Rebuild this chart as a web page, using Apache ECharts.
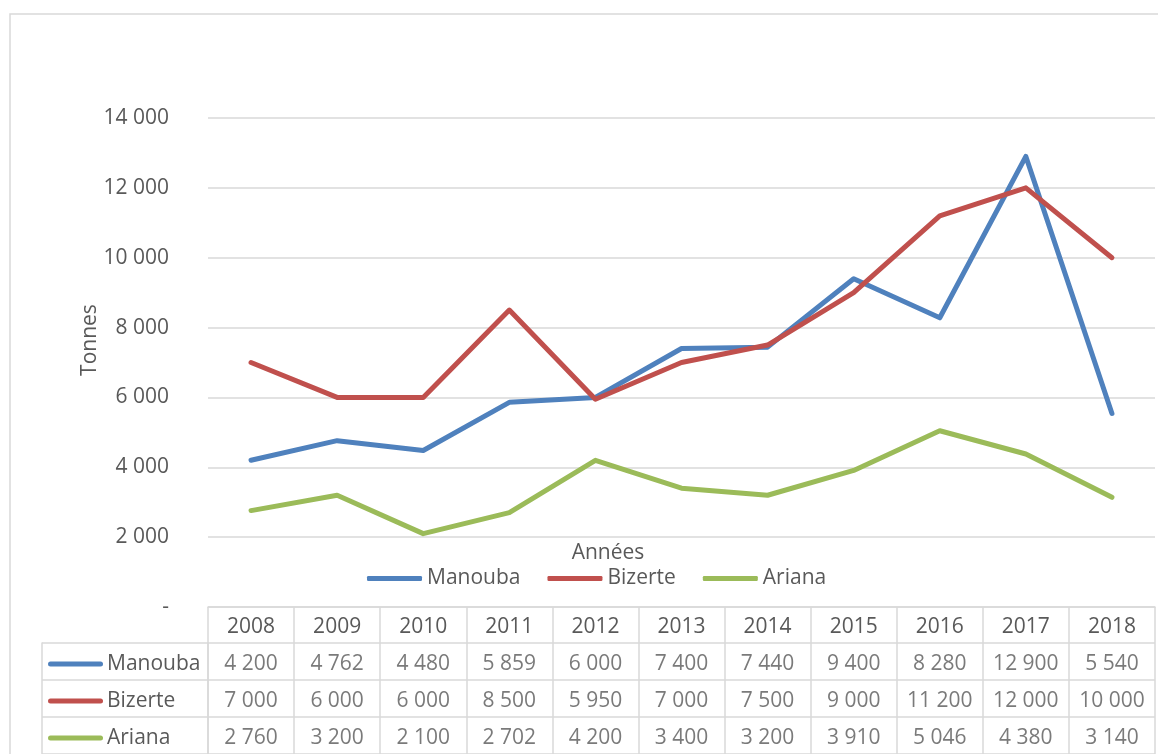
<!DOCTYPE html>
<html>
<head>
<meta charset="utf-8">
<script src="https://cdn.jsdelivr.net/npm/echarts@6/dist/echarts.min.js"></script>
<style>
  html, body { margin: 0; padding: 0; background: #fff; }
  #main { width: 1158px; height: 754px; }
</style>
</head>
<body>
<div id="main"></div>
<script>
var years = ['2008', '2009', '2010', '2011', '2012', '2013', '2014', '2015', '2016', '2017', '2018'];
var seriesNames = ['Manouba', 'Bizerte', 'Ariana'];
var manouba = [4200, 4762, 4480, 5859, 6000, 7400, 7440, 9400, 8280, 12900, 5540];
var bizerte = [7000, 6000, 6000, 8500, 5950, 7000, 7500, 9000, 11200, 12000, 10000];
var ariana = [2760, 3200, 2100, 2702, 4200, 3400, 3200, 3910, 5046, 4380, 3140];
var colors = ['#4F81BD', '#C0504D', '#9BBB59'];

var allValues = [manouba, bizerte, ariana];
var font = '"Open Sans", "Noto Sans", sans-serif';
var txt = '#595959';
var border = '#d9d9d9';

// 4 200 style thousands
function fmt(v) {
  return String(v).replace(/\B(?=(\d{3})+(?!\d))/g, ' ');
}

// cells of the data table: [col, row, value]
var cells = [];
allValues.forEach(function (arr, r) {
  arr.forEach(function (v, c) {
    cells.push([c, r, v]);
  });
});

var myChart = echarts.init(document.getElementById('main'));

var lineSeries = allValues.map(function (arr, i) {
  return {
    name: seriesNames[i],
    type: 'line',
    xAxisIndex: 0,
    yAxisIndex: 0,
    data: arr,
    symbol: 'none',
    color: colors[i],
    lineStyle: { width: 5, color: colors[i], cap: 'round', join: 'round' },
  };
});

var rich = { b: { fontFamily: font, fontSize: 21, color: txt, padding: [0, 0, 0, 4] } };
colors.forEach(function (c, i) {
  rich['a' + i] = { width: 55, height: 5, backgroundColor: c, borderRadius: 2.5 };
});

var option = {
  animation: false,
  textStyle: { fontFamily: font },
  legend: {
    data: seriesNames,
    left: 362,
    top: 563,
    icon: 'roundRect',
    itemWidth: 55,
    itemHeight: 5,
    itemGap: 27,
    textStyle: { fontSize: 21, color: txt, fontFamily: font },
  },
  grid: [
    { left: 208, right: 3, top: 118, bottom: 147 },
    { left: 208, right: 3, top: 643, height: 114 },
  ],
  xAxis: [
    {
      type: 'category',
      gridIndex: 0,
      data: years,
      boundaryGap: true,
      axisLine: { show: true, lineStyle: { color: border, width: 1.5 } },
      axisTick: { show: false },
      axisLabel: { fontSize: 21, color: txt, fontFamily: font, margin: 10, interval: 0 },
    },
    {
      // table columns
      type: 'category',
      gridIndex: 1,
      data: years,
      position: 'top',
      boundaryGap: true,
      axisLine: { show: false },
      axisTick: { show: true, length: 36, interval: 0, lineStyle: { color: border, width: 1.5 } },
      axisLabel: { show: false },
      splitLine: { show: true, interval: 0, lineStyle: { color: border, width: 1.5 } },
    },
  ],
  yAxis: [
    {
      type: 'value',
      gridIndex: 0,
      min: 0,
      max: 14000,
      interval: 2000,
      axisLine: { show: false },
      axisTick: { show: false },
      axisLabel: {
        fontSize: 21, color: txt, fontFamily: font, margin: 39,
        formatter: function (v) { return v === 0 ? '-' : fmt(v); },
      },
      splitLine: { lineStyle: { color: border, width: 1.5 } },
    },
    {
      // table rows with legend keys
      type: 'category',
      gridIndex: 1,
      data: seriesNames,
      inverse: true,
      axisLine: { show: true, lineStyle: { color: border, width: 1.5 } },
      axisTick: { show: true, length: 166, interval: 0, lineStyle: { color: border, width: 1.5 } },
      splitLine: { show: true, interval: 0, lineStyle: { color: border, width: 1.5 } },
      axisLabel: {
        interval: 0,
        align: 'left',
        margin: 160,
        padding: [5, 0, 0, 0],
        formatter: function (v, i) { return '{a' + i + '|}{b|' + v + '}'; },
        rich: rich,
      },
    },
    {
      // left border of legend column
      type: 'category',
      gridIndex: 1,
      data: seriesNames,
      position: 'left',
      offset: 166,
      axisLine: { show: true, lineStyle: { color: border, width: 1.5 } },
      axisTick: { show: false },
      axisLabel: { show: false },
      splitLine: { show: false },
    },
  ],
  graphic: [
    {
      type: 'rect',
      shape: { x: 10, y: 14, width: 1170, height: 780 },
      style: { fill: 'none', stroke: border, lineWidth: 1.5 },
      silent: true,
    },
    {
      type: 'text',
      x: 608,
      y: 553,
      style: { text: 'Années', font: '21px ' + font, fill: txt, textAlign: 'center', textVerticalAlign: 'middle' },
    },
    {
      type: 'text',
      x: 90,
      y: 340,
      rotation: Math.PI / 2,
      style: { text: 'Tonnes', font: '21px ' + font, fill: txt, textAlign: 'center', textVerticalAlign: 'middle' },
    },
  ],
  series: lineSeries.concat([
    {
      type: 'scatter',
      xAxisIndex: 1,
      yAxisIndex: 1,
      data: cells,
      symbolSize: 1,
      itemStyle: { color: 'rgba(0,0,0,0)' },
      label: {
        show: true,
        position: 'inside',
        offset: [0, 3],
        fontSize: 21,
        color: txt,
        fontFamily: font,
        formatter: function (p) { return fmt(p.value[2]); },
      },
      silent: true,
    },
  ]),
};

myChart.setOption(option);
</script>
</body>
</html>
